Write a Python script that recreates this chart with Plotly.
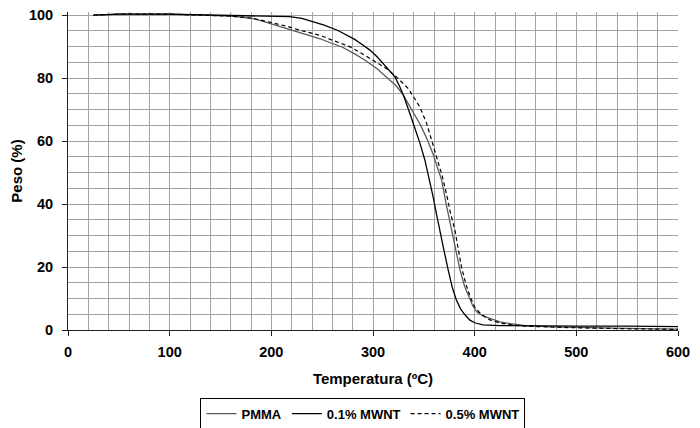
import plotly.graph_objects as go

# PMMA (gray solid): early gradual loss, later steep drop
pmma_t = [25, 50, 100, 150, 160, 170, 182, 192, 200, 215, 230, 248, 260, 270, 282, 293, 304, 313, 323, 330, 336, 341, 346, 352, 359, 363, 367.5, 372, 377.4, 381, 385.6, 390, 394, 398, 402, 408, 415, 425, 435, 450, 475, 500, 550, 600]
pmma_w = [100, 100.3, 100.3, 99.9, 99.7, 99.4, 98.9, 98.0, 97.2, 95.7, 94.2, 92.5, 91.0, 89.8, 87.7, 85.5, 83.0, 80.5, 77.5, 74.5, 71.0, 68.0, 65.5, 61.5, 56.0, 52.0, 47.6, 40.0, 31.7, 25.5, 19.0, 14.0, 10.6, 7.8, 5.8, 4.5, 3.7, 2.6, 2.0, 1.4, 1.0, 0.8, 0.5, 0.3]

# 0.1% MWNT (black solid): stable to ~220 C, earliest steep drop
mw01_t = [25, 50, 100, 150, 200, 218, 230, 241, 252, 265, 275, 282, 290, 297, 304, 310, 316, 321.6, 326, 330, 336, 341, 346, 351, 355, 359, 362, 366, 370, 374, 378, 382, 386, 390, 395, 400, 408, 425, 450, 500, 550, 600]
mw01_w = [100, 100.3, 100.3, 99.9, 99.6, 99.5, 99.0, 97.9, 96.8, 95.2, 93.5, 92.3, 90.5, 88.9, 86.8, 84.7, 82.6, 80.4, 77.5, 74.5, 69.0, 64.5, 59.5, 54.0, 48.5, 42.5, 37.5, 31.7, 25.0, 19.0, 13.5, 9.5, 6.8, 5.0, 3.2, 2.3, 1.6, 1.4, 1.3, 1.25, 1.2, 1.1]

# 0.5% MWNT (black dashed)
mw05_t = [25, 50, 100, 150, 160, 182, 200, 215, 228, 248, 258, 268, 277, 287, 297, 307, 313.5, 323, 330, 334.7, 340, 346, 352.8, 358, 362.6, 368, 372.5, 376, 380.6, 384, 387, 391, 395.5, 400, 404, 410, 415, 425, 435, 450, 475, 500, 550, 600]
mw05_w = [100, 100.3, 100.3, 99.9, 99.7, 99.0, 97.6, 96.5, 95.2, 93.6, 92.3, 91.2, 90.0, 88.2, 86.2, 84.3, 83.0, 80.4, 78.2, 76.7, 74.0, 70.9, 65.6, 60.0, 55.0, 49.0, 42.9, 37.5, 31.7, 25.5, 20.0, 15.0, 10.6, 7.3, 5.8, 4.2, 3.2, 2.2, 1.7, 1.2, 0.9, 0.7, 0.4, 0.2]

series_names = ["PMMA", "0.1% MWNT", "0.5% MWNT"]

FONT = "Liberation Sans, Arial, sans-serif"

fig = go.Figure()
fig.add_trace(go.Scatter(x=pmma_t, y=pmma_w, mode="lines", name=series_names[0],
                         line=dict(color="#5a5a5a", width=1.3)))
fig.add_trace(go.Scatter(x=mw01_t, y=mw01_w, mode="lines", name=series_names[1],
                         line=dict(color="#000000", width=1.3)))
fig.add_trace(go.Scatter(x=mw05_t, y=mw05_w, mode="lines", name=series_names[2],
                         line=dict(color="#000000", width=1.2, dash="4px,3px")))

grid = "#a3a3a3"
fig.update_layout(
    width=692, height=420,
    paper_bgcolor="white", plot_bgcolor="white",
    margin=dict(l=60, r=22, t=4, b=98, autoexpand=False),
    font=dict(family=FONT, size=12, color="black"),
    xaxis=dict(
        range=[0, 600], dtick=100, tick0=0,
        showgrid=True, gridcolor=grid, gridwidth=1,
        minor=dict(dtick=20, showgrid=True, gridcolor=grid, gridwidth=1),
        showline=True, linecolor="#202020", linewidth=1,
        ticks="outside", ticklen=5, tickcolor="#202020",
        ticklabelstandoff=4, ticklabeloverflow="allow",
        tickfont=dict(family=FONT, size=14.5, weight="bold"),
        zeroline=False, automargin=False,
        title=dict(text="Temperatura (ºC)", font=dict(family=FONT, size=15, weight="bold"), standoff=14),
    ),
    yaxis=dict(
        range=[0, 101], dtick=20, tick0=0,
        showgrid=True, gridcolor=grid, gridwidth=1,
        minor=dict(dtick=5, showgrid=True, gridcolor=grid, gridwidth=1),
        showline=True, linecolor="#202020", linewidth=1,
        ticks="outside", ticklen=5, tickcolor="#202020",
        ticklabelstandoff=6, ticklabeloverflow="allow",
        tickfont=dict(family=FONT, size=14.5, weight="bold"),
        zeroline=False, automargin=False,
        title=dict(text="Peso (%)", font=dict(family=FONT, size=15, weight="bold"), standoff=2),
    ),
    legend=dict(
        orientation="h", xref="container", yref="container",
        x=0.513, xanchor="center", y=0.072, yanchor="top",
        bordercolor="black", borderwidth=1, bgcolor="white",
        font=dict(family=FONT, size=13, weight="bold"),
        itemwidth=30, tracegroupgap=0,
    ),
    showlegend=True,
)

fig.write_html("out.html")
